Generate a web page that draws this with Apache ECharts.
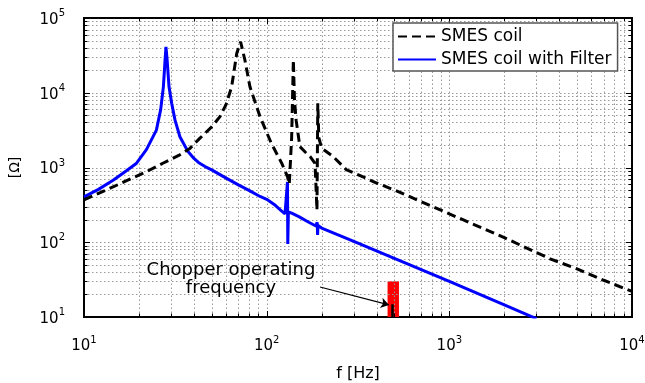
<!DOCTYPE html>
<html><head><meta charset="utf-8">
<script src="https://cdn.jsdelivr.net/npm/echarts@6/dist/echarts.min.js"></script>
<style>html,body{margin:0;padding:0;background:#fff}#c{width:645px;height:383px}</style>
</head><body><div id="c"></div>
<script>
const FONT = 'DejaVu Sans';
// SMES coil (dashed black)
const coilFreq = [10, 13, 17, 22, 27, 33, 38, 43, 50, 55.5, 60, 64.3, 68.6, 72, 76, 81, 92, 106, 121, 130, 133, 137, 140, 142, 145, 152, 163, 173, 184, 188.5, 190.5, 193, 200, 231, 274, 300, 400, 500, 700, 1000, 2000, 3560, 5000, 7000, 10000];
const coilImp  = [370, 490, 660, 880, 1140, 1450, 1800, 2450, 3500, 4790, 7000, 12000, 33700, 48000, 27400, 12000, 4790, 2110, 1137, 753, 600, 2500, 27400, 8000, 4300, 1900, 1600, 1400, 1137, 270, 7230, 2500, 1810, 1400, 927, 850, 620, 500, 350, 240, 115, 60, 44, 31, 22];
// SMES coil with filter (solid blue)
const filterFreq = [10, 12, 14.5, 17, 19.4, 22, 24.9, 26.3, 27.2, 27.8, 28.1, 28.5, 29.2, 30.2, 31.5, 33.5, 37, 40, 42.3, 46, 50, 60, 70, 80, 92, 100, 110, 120, 126, 129, 130, 130.5, 131.5, 137, 150, 170, 186, 189, 190, 191, 200, 300, 500, 1000, 2000, 2800, 3000];
const filterImp  = [405, 510, 680, 900, 1140, 1750, 3160, 6000, 12000, 28000, 41000, 28000, 12000, 7230, 4300, 2580, 1650, 1320, 1170, 1030, 930, 720, 585, 495, 410, 375, 320, 265, 240, 228, 640, 95, 255, 245, 220, 185, 165, 185, 125, 168, 155, 103, 61, 30, 14.5, 10.2, 9.5];
const seriesNames = ['SMES coil', 'SMES coil with Filter'];
const xTicks = [10, 100, 1000, 10000];
const yTicks = [10, 100, 1000, 10000, 100000];
const minorMult = [2, 3, 4, 5, 6, 7, 8, 9];
const chopperBand = [459, 530];
const chopperTop = 30;
const arrowStart = [196, 25.2];
const arrowEnd = [467, 14.5];
const markerFreq = 490;
const markerSpan = [14.8, 10];
const annotationText = ['Chopper operating', 'frequency'];

const chart = echarts.init(document.getElementById('c'), null, {renderer: 'canvas'});
const pairs = (f, v) => f.map((x, i) => [x, v[i]]);
const sup = v => '{b|10}{s|' + Math.round(Math.log10(v)) + '}';
const rich = {
  b: {fontFamily: FONT, fontSize: 15, color: '#000', padding: [4, 0, 0, 0]},
  s: {fontFamily: FONT, fontSize: 10, color: '#000', verticalAlign: 'top'}
};
const option = {
  animation: false,
  backgroundColor: '#fff',
  grid: {left: 84, right: 13, top: 18, bottom: 66, show: true, borderColor: '#000', borderWidth: 2,
    backgroundColor: 'transparent', containLabel: false, outerBoundsMode: 'none'},
  legend: {
    left: 393, top: 23, orient: 'vertical', itemWidth: 38, itemHeight: 14, itemGap: 6,
    padding: [5, 6, 3, 4], backgroundColor: '#fff', borderColor: '#555', borderWidth: 1.5,
    itemStyle: {opacity: 0},
    textStyle: {fontFamily: FONT, fontSize: 17, color: '#000'}, data: seriesNames
  },
  xAxis: {
    type: 'log', logBase: 10, min: xTicks[0], max: xTicks[xTicks.length - 1],
    name: 'f [Hz]', nameLocation: 'middle', nameGap: 49,
    nameTextStyle: {fontFamily: FONT, fontSize: 16, color: '#000'},
    axisLine: {show: false}, axisTick: {show: false}, splitLine: {show: false},
    axisLabel: {margin: 18, formatter: sup, rich: rich}
  },
  yAxis: {
    type: 'log', logBase: 10, min: yTicks[0], max: yTicks[yTicks.length - 1],
    name: '[Ω]', nameLocation: 'middle', nameGap: 62,
    nameTextStyle: {fontFamily: FONT, fontSize: 14, color: '#000'},
    axisLine: {show: false}, axisTick: {show: false}, splitLine: {show: false},
    axisLabel: {margin: 19, formatter: sup, rich: rich}
  },
  series: [
    {name: seriesNames[1], type: 'line', data: pairs(filterFreq, filterImp), symbol: 'none', showSymbol: false,
      lineStyle: {color: '#0000ff', width: 3}, itemStyle: {color: '#0000ff'}, z: 3, clip: true},
    {name: seriesNames[0], type: 'line', data: pairs(coilFreq, coilImp), symbol: 'none', showSymbol: false,
      lineStyle: {color: '#000', width: 3, type: [9, 5]}, itemStyle: {color: '#000'}, z: 4, clip: true},
    {name: 'chopper', type: 'line', data: [[markerFreq, chopperTop]], symbol: 'none', showSymbol: false, lineStyle: {width: 0}, z: 5,
      markArea: {silent: true, itemStyle: {color: '#ff0000', opacity: 1}, label: {show: false},
        data: [[{coord: [chopperBand[0], yTicks[0]]}, {coord: [chopperBand[1], chopperTop]}]]},
      markLine: {silent: true, animation: false, label: {show: false},
        lineStyle: {color: '#000', width: 1.2, type: 'solid'}, symbolSize: 8,
        data: [
          [{coord: arrowStart, symbol: 'none'}, {coord: arrowEnd, symbol: 'arrow'}],
          [{coord: [markerFreq, markerSpan[0]], symbol: 'none', lineStyle: {width: 2.5}}, {coord: [markerFreq, markerSpan[1]], symbol: 'none'}]
        ]}
    }
  ]
};
chart.setOption(option);

const px = (x, y) => chart.convertToPixel({gridIndex: 0}, [x, y]);
const g = [];
const [X0, Y0] = px(xTicks[0], yTicks[0]);
const [X1, Y1] = px(xTicks[xTicks.length - 1], yTicks[yTicks.length - 1]);
const dotStyle = {stroke: '#999', lineWidth: 1, lineDash: [1.5, 2.5]};
const tick = {stroke: '#000', lineWidth: 1};
function vline(v, major) {
  const X = Math.round(px(v, yTicks[0])[0]) + 0.5;
  const L = major ? 6 : 3.5;
  g.push({type: 'line', silent: true, z: 1, shape: {x1: X, y1: Y0, x2: X, y2: Y1}, style: dotStyle});
  g.push({type: 'line', silent: true, z: 1, shape: {x1: X, y1: Y0, x2: X, y2: Y0 - L}, style: tick});
  g.push({type: 'line', silent: true, z: 1, shape: {x1: X, y1: Y1, x2: X, y2: Y1 + L}, style: tick});
}
function hline(v, major) {
  const Y = Math.round(px(xTicks[0], v)[1]) + 0.5;
  const L = major ? 6 : 3.5;
  g.push({type: 'line', silent: true, z: 1, shape: {x1: X0, y1: Y, x2: X1, y2: Y}, style: dotStyle});
  g.push({type: 'line', silent: true, z: 1, shape: {x1: X0, y1: Y, x2: X0 + L, y2: Y}, style: tick});
  g.push({type: 'line', silent: true, z: 1, shape: {x1: X1, y1: Y, x2: X1 - L, y2: Y}, style: tick});
}
xTicks.slice(1, -1).forEach(v => vline(v, true));
xTicks.slice(0, -1).forEach(d => minorMult.forEach(m => vline(d * m, false)));
yTicks.slice(1, -1).forEach(v => hline(v, true));
yTicks.slice(0, -1).forEach(d => minorMult.forEach(m => hline(d * m, false)));
g.push({type: 'text', silent: true, z: 10, style: {
  text: annotationText.join('\n'), x: 231, y: 279, align: 'center', verticalAlign: 'middle',
  fontFamily: FONT, fontSize: 18, lineHeight: 18, fill: '#000'}});
chart.setOption({graphic: {elements: g}});
</script>
</body></html>
